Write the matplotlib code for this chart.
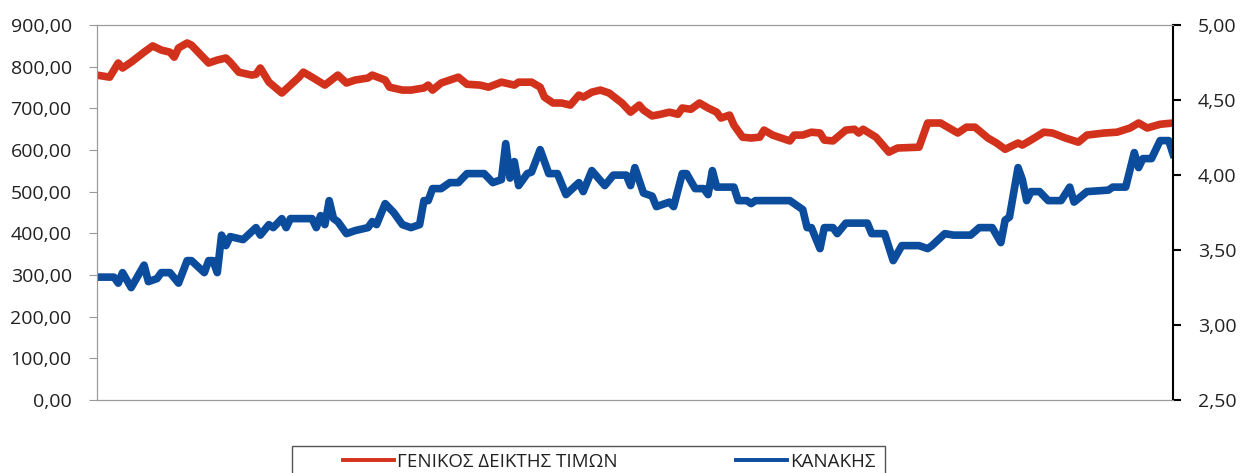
import matplotlib.pyplot as plt
from matplotlib.patches import Rectangle
from matplotlib.ticker import FuncFormatter

plt.rcParams['font.family'] = ['Open Sans', 'DejaVu Sans']

# trading day index and values
days_gen = [0, 3, 5, 6, 8, 11, 13, 15, 17, 18, 19, 21, 22, 26, 28, 30, 31, 33, 36, 37,
            38, 40, 43, 45, 47, 48, 50, 53, 56, 58, 60, 63, 64, 67, 68, 71, 73, 76, 77, 78,
            80, 84, 86, 89, 91, 94, 97, 98, 101, 103, 104, 106, 108, 110, 112, 113, 115, 117, 119, 122,
            124, 126, 127, 129, 131, 133, 135, 136, 138, 140, 142, 144, 145, 147, 148, 150, 152, 154, 155, 157,
            159, 161, 162, 164, 166, 168, 169, 171, 174, 176, 177, 178, 181, 184, 186, 191, 193, 196, 198, 200,
            202, 204, 207, 209, 211, 214, 215, 217, 220, 222, 225, 228, 230, 234, 237, 240, 242, 244, 247, 250]
gen_index = [780, 775, 809, 797, 811, 835, 850, 840, 835, 823, 845, 857, 852, 809, 816, 821, 811, 787, 780, 782,
             797, 763, 737, 756, 775, 787, 775, 756, 780, 761, 768, 773, 780, 768, 751, 744, 744, 749, 756, 744,
             761, 775, 758, 756, 751, 763, 756, 763, 763, 751, 727, 713, 713, 708, 732, 727, 739, 744, 737, 713,
             691, 708, 696, 682, 686, 691, 686, 701, 698, 713, 701, 691, 677, 684, 660, 631, 629, 631, 648, 636,
             629, 622, 636, 636, 643, 641, 624, 622, 648, 650, 641, 650, 631, 595, 605, 607, 665, 665, 653, 641,
             655, 655, 629, 617, 602, 617, 612, 624, 643, 641, 629, 619, 636, 641, 643, 653, 665, 653, 662, 665]

days_kan = [0, 4, 5, 6, 8, 11, 12, 14, 15, 17, 19, 21, 22, 25, 26, 27, 28, 29, 30, 31,
            34, 37, 38, 40, 41, 43, 44, 45, 50, 51, 52, 53, 54, 55, 56, 58, 60, 63, 64, 65,
            67, 69, 71, 73, 75, 76, 77, 78, 80, 82, 84, 86, 90, 92, 94, 95, 96, 97, 98, 100,
            101, 103, 105, 107, 109, 112, 113, 115, 118, 120, 123, 124, 125, 127, 129, 130, 133, 134, 136, 137,
            139, 141, 142, 143, 144, 148, 149, 151, 152, 153, 161, 164, 165, 166, 168, 169, 171, 172, 174, 179,
            180, 183, 185, 187, 191, 193, 194, 197, 199, 203, 205, 208, 210, 211, 212, 214, 215, 216, 217, 219,
            221, 224, 226, 227, 230, 235, 236, 239, 241, 242, 243, 245, 247, 249, 250]
kanakis = [3.32, 3.32, 3.28, 3.35, 3.25, 3.40, 3.29, 3.31, 3.35, 3.35, 3.28, 3.43, 3.43, 3.35, 3.43, 3.43, 3.35, 3.60, 3.53, 3.59,
           3.57, 3.65, 3.60, 3.67, 3.65, 3.71, 3.65, 3.71, 3.71, 3.65, 3.73, 3.67, 3.83, 3.71, 3.69, 3.61, 3.63, 3.65, 3.69, 3.67,
           3.81, 3.75, 3.67, 3.65, 3.67, 3.83, 3.83, 3.91, 3.91, 3.95, 3.95, 4.01, 4.01, 3.95, 3.97, 4.21, 3.98, 4.09, 3.93, 4.01,
           4.02, 4.17, 4.01, 4.01, 3.87, 3.95, 3.89, 4.03, 3.93, 4.00, 4.00, 3.93, 4.05, 3.88, 3.86, 3.79, 3.82, 3.79, 4.01, 4.01,
           3.91, 3.91, 3.87, 4.03, 3.92, 3.92, 3.83, 3.83, 3.81, 3.83, 3.83, 3.77, 3.65, 3.65, 3.51, 3.65, 3.65, 3.61, 3.68, 3.68,
           3.61, 3.61, 3.43, 3.53, 3.53, 3.51, 3.53, 3.61, 3.60, 3.60, 3.65, 3.65, 3.55, 3.70, 3.72, 4.05, 3.97, 3.83, 3.89, 3.89,
           3.83, 3.83, 3.92, 3.82, 3.89, 3.90, 3.92, 3.92, 4.15, 4.05, 4.11, 4.11, 4.23, 4.23, 4.14]

red = '#d2311b'
blue = '#0b4c9c'
txt = '#222222'

fig = plt.figure(figsize=(12.4, 4.73), dpi=100)
ax1 = fig.add_axes([0.078, 0.154, 0.868, 0.793])
ax2 = ax1.twinx()

l1, = ax1.plot(days_gen, gen_index, color=red, lw=5.5, solid_joinstyle='round',
               label='ΓΕΝΙΚΟΣ ΔΕΙΚΤΗΣ ΤΙΜΩΝ')
l2, = ax2.plot(days_kan, kanakis, color=blue, lw=5.5, solid_joinstyle='round',
               label='ΚΑΝΑΚΗΣ')

ax1.set_xlim(0, 250)
ax1.set_ylim(0, 900)
ax1.set_yticks(range(0, 901, 100))
ax2.set_ylim(2.5, 5.0)
ax2.set_yticks([2.5, 3.0, 3.5, 4.0, 4.5, 5.0])

comma = FuncFormatter(lambda v, p: f'{v:.2f}'.replace('.', ','))
ax1.yaxis.set_major_formatter(comma)
ax2.yaxis.set_major_formatter(comma)

ax1.set_xticks([])
for s in ['left', 'bottom', 'top']:
    ax1.spines[s].set_color('#9a9a9a')
    ax2.spines[s].set_color('#9a9a9a')
ax1.spines['right'].set_visible(False)
ax2.spines['right'].set_color('black')
ax2.spines['right'].set_linewidth(1.5)

ax1.tick_params(axis='y', length=6, color='#9a9a9a', labelsize=14, labelcolor=txt, pad=12)
ax2.tick_params(axis='y', length=6, width=1.5, color='black', labelsize=14, labelcolor=txt, pad=12)

# legend frame (cut off at bottom like the reference)
fig.patches.append(Rectangle((292 / 1240, -0.05), (885 - 292) / 1240, 0.05 + 1 - 446 / 473,
                             transform=fig.transFigure, fill=False, edgecolor='#555555', lw=1))
leg = fig.legend(handles=[l1, l2], loc='center left', bbox_to_anchor=(343 / 1240, 11 / 473),
                 ncol=2, frameon=False, fontsize=13.5, handlelength=2.7, handletextpad=0.2,
                 columnspacing=6.3, borderpad=0, borderaxespad=0)
for h in leg.get_lines():
    h.set_linewidth(2.8)
for t in leg.get_texts():
    t.set_color(txt)

fig.savefig('out.png', dpi=100)
